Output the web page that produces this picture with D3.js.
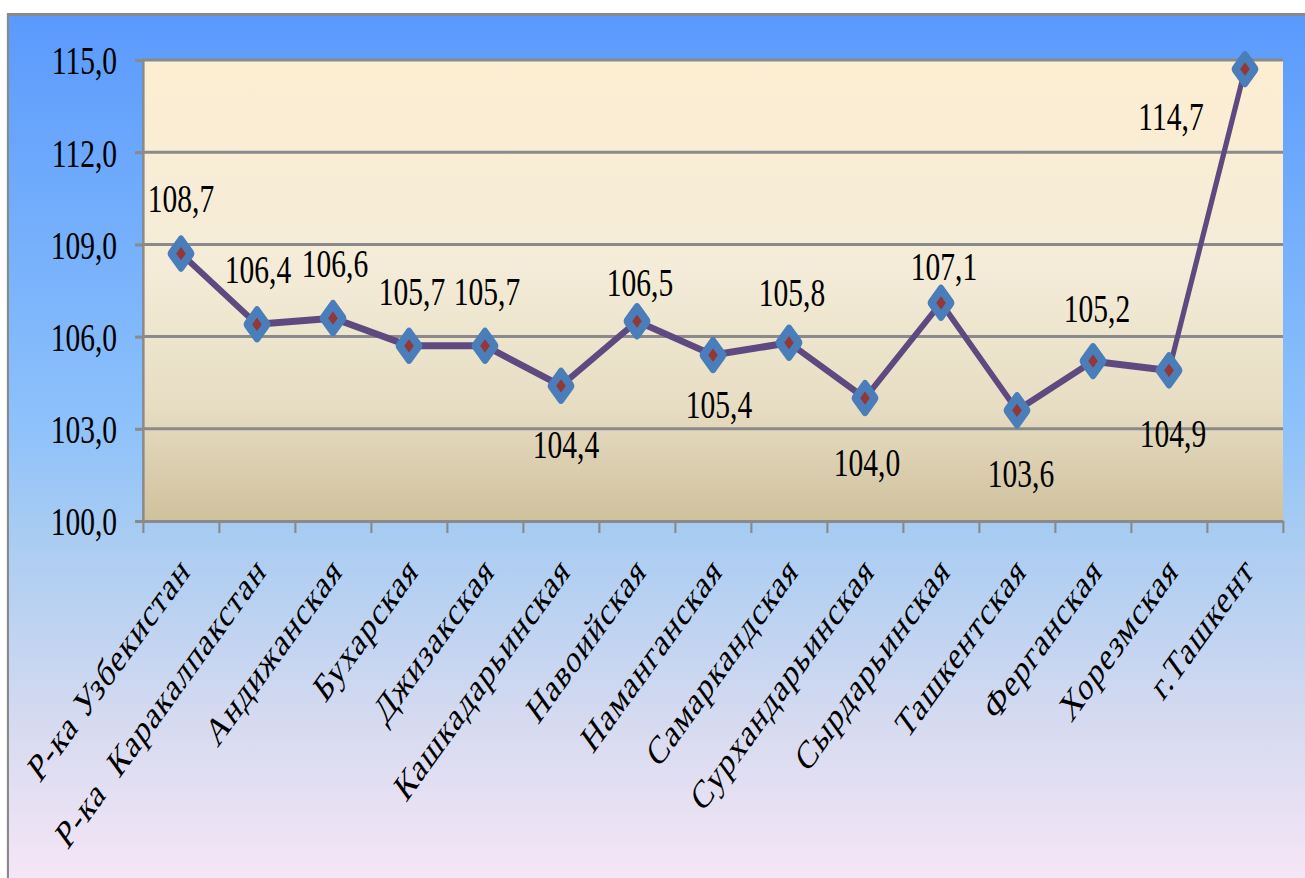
<html>

<head>
    <meta charset="utf-8">
    <title>Индекс по регионам</title>
    <script src="https://d3js.org/d3.v7.min.js"></script>
    <style>
        body { margin: 0; background: #fff; }
        text { font-family: "Liberation Serif", "Times New Roman", serif; fill: #000; }
    </style>
</head>

<body>
    <div id="myPlot"></div>
    <script>
        var categories = ["Р-ка Узбекистан", "Р-ка  Каракалпакстан", "Андижанская", "Бухарская", "Джизакская",
            "Кашкадарьинская", "Навоийская", "Наманганская", "Самаркандская", "Сурхандарьинская",
            "Сырдарьинская", "Ташкентская", "Ферганская", "Хорезмская", "г.Ташкент"];
        var values = [108.7, 106.4, 106.6, 105.7, 105.7, 104.4, 106.5, 105.4, 105.8, 104.0, 107.1, 103.6, 105.2, 104.9, 114.7];
        var yTicks = [100, 103, 106, 109, 112, 115];

        // where each value label sits relative to its point (screen px)
        var labelShift = [[0, -56], [1, -55], [2, -55], [3, -55], [2, -55], [5, 58], [3, -39], [6, 49],
            [3, -51], [2, 64], [3, -37], [4, 63], [4, -53], [4, 63], [-74, 47]];

        // the picture is horizontally squeezed, so draw wide and squash it
        var sx = 0.72;
        var W = 1305, H = 878, VW = W / sx;

        var svg = d3.select("#myPlot").append("svg")
            .attr("width", W)
            .attr("height", H)
            .attr("viewBox", "0 0 " + VW + " " + H)
            .attr("preserveAspectRatio", "none");

        var defs = svg.append("defs");
        var bg = defs.append("linearGradient").attr("id", "bg")
            .attr("x1", 0).attr("y1", 0).attr("x2", 0).attr("y2", 1);
        [[0, "#5a9afc"], [0.45, "#8cc1fb"], [0.58, "#a9ccf2"], [0.8, "#d8dbf0"], [1, "#fce8f8"]].forEach(function (s) {
            bg.append("stop").attr("offset", s[0]).attr("stop-color", s[1]);
        });
        var pg = defs.append("linearGradient").attr("id", "plotbg")
            .attr("x1", 0).attr("y1", 0).attr("x2", 0).attr("y2", 1);
        [[0, "#fdeed2"], [0.45, "#f4ecd8"], [0.75, "#e7ddc3"], [1, "#d0c19d"]].forEach(function (s) {
            pg.append("stop").attr("offset", s[0]).attr("stop-color", s[1]);
        });

        // chart area
        svg.append("rect")
            .attr("x", 11).attr("y", 14.5)
            .attr("width", VW + 20).attr("height", H + 20)
            .attr("fill", "url(#bg)")
            .attr("stroke", "#8a8a8a")
            .attr("stroke-width", 3);

        var plotL = 143 / sx, plotR = 1283 / sx, plotT = 60, plotB = 521;

        svg.append("rect")
            .attr("x", plotL).attr("y", plotT)
            .attr("width", plotR - plotL).attr("height", plotB - plotT)
            .attr("fill", "url(#plotbg)");

        var x = d3.scaleBand().domain(categories).range([plotL, plotR]);
        var xEdge = d3.scaleLinear().domain([0, categories.length]).range([plotL, plotR]);
        var y = d3.scaleLinear().domain([100, 115]).range([plotB, plotT]);

        var fmt = function (v) { return d3.format(".1f")(v).replace(".", ","); };

        // grid lines
        svg.append("g").selectAll("line")
            .data(yTicks.slice(1))
            .enter().append("line")
            .attr("x1", plotL).attr("x2", plotR)
            .attr("y1", function (d) { return y(d); })
            .attr("y2", function (d) { return y(d); })
            .attr("stroke", "#8a8a8a")
            .attr("stroke-width", 3);

        // y axis
        var yAxis = svg.append("g")
            .attr("transform", "translate(" + plotL + ",0)")
            .call(d3.axisLeft(y).tickValues(yTicks).tickFormat(fmt).tickSize(11).tickSizeOuter(0).tickPadding(25));
        yAxis.select(".domain").attr("stroke", "#8a8a8a").attr("stroke-width", 3.5);
        yAxis.selectAll(".tick line").attr("stroke", "#8a8a8a").attr("stroke-width", 3);
        yAxis.selectAll(".tick text")
            .style("font-family", "Liberation Serif")
            .style("font-size", "41px")
            .attr("dy", "0.34em");

        // x axis
        var xAxis = svg.append("g")
            .attr("transform", "translate(0," + plotB + ")")
            .call(d3.axisBottom(xEdge).tickValues(d3.range(categories.length + 1)).tickFormat("").tickSize(12).tickSizeOuter(0));
        xAxis.select(".domain").attr("stroke", "#8a8a8a").attr("stroke-width", 3);
        xAxis.selectAll(".tick line").attr("stroke", "#8a8a8a").attr("stroke-width", 3);

        svg.append("g").selectAll("text")
            .data(categories)
            .enter().append("text")
            .attr("transform", function (d) {
                return "translate(" + (x(d) + x.bandwidth() / 2 + 5) + ",563) rotate(-45)";
            })
            .attr("text-anchor", "end")
            .attr("dy", "0.35em")
            .style("font-size", "40px")
            .style("letter-spacing", "1.5px")
            .style("white-space", "pre")
            .text(function (d) { return d; });

        // line
        var pts = values.map(function (v, i) { return [x(categories[i]) + x.bandwidth() / 2, y(v)]; });
        svg.append("path")
            .attr("d", d3.line()(pts))
            .attr("fill", "none")
            .attr("stroke", "#5e4a80")
            .attr("stroke-width", 7)
            .attr("stroke-linejoin", "round");

        // markers
        var h = 13.5;
        svg.append("g").selectAll("path")
            .data(pts)
            .enter().append("path")
            .attr("d", "M0," + (-h) + "L" + h + ",0L0," + h + "L" + (-h) + ",0Z")
            .attr("transform", function (d) { return "translate(" + d[0] + "," + d[1] + ")"; })
            .attr("fill", "#953735")
            .attr("stroke", "#4a7ebb")
            .attr("stroke-width", 9.6)
            .attr("stroke-linejoin", "round");

        // value labels
        svg.append("g").selectAll("text")
            .data(values)
            .enter().append("text")
            .attr("x", function (d, i) { return pts[i][0] + labelShift[i][0] / sx; })
            .attr("y", function (d, i) { return pts[i][1] + labelShift[i][1]; })
            .attr("dy", "0.34em")
            .attr("text-anchor", "middle")
            .style("font-size", "41px")
            .text(fmt);
    </script>
</body>

</html>
